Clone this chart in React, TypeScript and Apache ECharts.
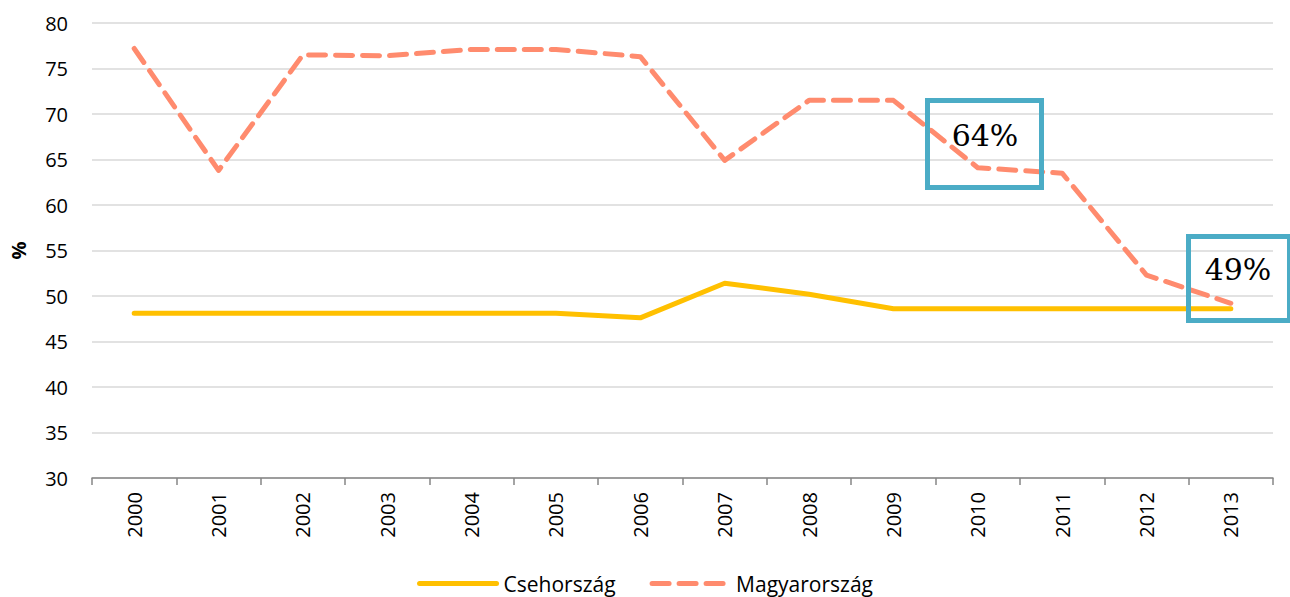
import React, { useEffect, useRef } from "react";
import * as echarts from "echarts";

const years = ["2000","2001","2002","2003","2004","2005","2006","2007","2008","2009","2010","2011","2012","2013"];
const cseh = [48.1, 48.1, 48.1, 48.1, 48.1, 48.1, 47.6, 51.4, 50.2, 48.6, 48.6, 48.6, 48.6, 48.6];
const magyar = [77.2, 63.8, 76.5, 76.4, 77.1, 77.1, 76.3, 64.9, 71.5, 71.5, 64.1, 63.5, 52.3, 49.2];
const yTicks = { min: 30, max: 80, interval: 5 };
const notes = [
  { text: "64%", x: 925, y: 98, w: 119, h: 92, tx: 985, ty: 135 },
  { text: "49%", x: 1186, y: 234, w: 106, h: 89, tx: 1238, ty: 269 },
];

export default function App() {
  const ref = useRef<HTMLDivElement>(null);
  useEffect(() => {
    if (!ref.current) return;
    const chart = echarts.init(ref.current, undefined, { renderer: "svg" });
    const font = "'Open Sans', 'Noto Sans', sans-serif";
    chart.setOption({
      animation: false,
      backgroundColor: "#ffffff",
      grid: { left: 87, right: 17, top: 23, bottom: 119, containLabel: false },
      legend: {
        top: 568,
        left: "center",
        itemWidth: 77,
        itemHeight: 14,
        itemGap: 34,
        itemStyle: { opacity: 0 },
        lineStyle: { width: 5 },
        textStyle: { fontFamily: font, fontSize: 21, color: "#000", padding: [0, 0, 0, 2] },
        data: ["Csehország", "Magyarország"],
      },
      xAxis: {
        type: "category",
        data: years,
        boundaryGap: true,
        axisLine: { lineStyle: { color: "#868686", width: 1.5 } },
        axisTick: { show: true, length: 7, lineStyle: { color: "#868686", width: 1.5 } },
        axisLabel: { rotate: 90, margin: 14, fontFamily: font, fontSize: 20, color: "#000" },
      },
      yAxis: {
        type: "value",
        min: yTicks.min,
        max: yTicks.max,
        interval: yTicks.interval,
        name: "%",
        nameLocation: "middle",
        nameGap: 64,
        nameRotate: 90,
        nameTextStyle: { fontFamily: font, fontSize: 20, fontWeight: "bold", color: "#000" },
        axisLine: { show: false },
        axisTick: { show: false },
        axisLabel: { margin: 24, fontFamily: font, fontSize: 20, color: "#000" },
        splitLine: { lineStyle: { color: "#D9D9D9", width: 1.5 } },
      },
      series: [
        {
          name: "Csehország",
          type: "line",
          data: cseh,
          symbol: "none",
          color: "#FFC000",
          lineStyle: { color: "#FFC000", width: 5, cap: "round", join: "round" },
        },
        {
          name: "Magyarország",
          type: "line",
          data: magyar,
          symbol: "none",
          color: "#FF8B6E",
          lineStyle: { color: "#FF8B6E", width: 5, type: [17, 10], cap: "round", join: "round" },
        },
      ],
      graphic: notes.flatMap((n) => [
        {
          type: "rect",
          shape: { x: n.x + 2.5, y: n.y + 2.5, width: n.w - 5, height: n.h - 5 },
          style: { fill: "none", stroke: "#4BACC6", lineWidth: 5 },
          z: 100,
        },
        {
          type: "text",
          x: n.tx,
          y: n.ty,
          style: {
            text: n.text,
            fill: "#000",
            font: "30px 'DejaVu Serif', 'Liberation Serif', serif",
            align: "center",
            verticalAlign: "middle",
          },
          z: 101,
        },
      ]),
    });
    return () => chart.dispose();
  }, []);
  return <div ref={ref} style={{ position: "fixed", left: 0, top: 0, width: 1290, height: 597 }} />;
}
